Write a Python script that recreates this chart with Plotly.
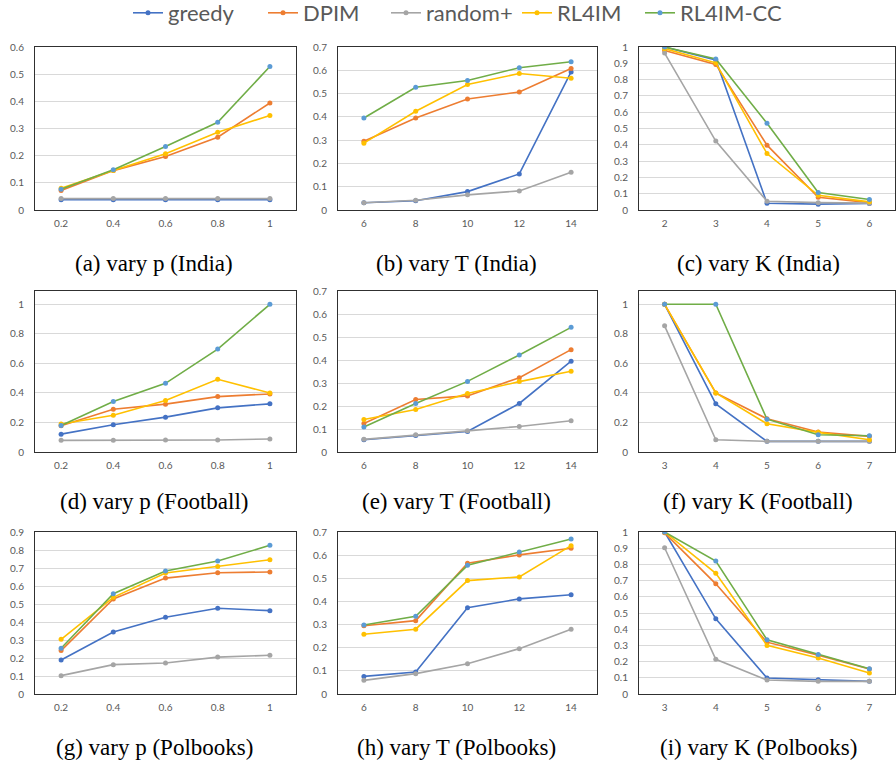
import plotly.graph_objects as go

# ---------------- data ----------------
SERIES = ["greedy", "DPIM", "random+", "RL4IM", "RL4IM-CC"]
LINE_COLORS = ["#4472C4", "#ED7D31", "#A5A5A5", "#FFC000", "#70AD47"]
MARKER_COLORS = ["#4472C4", "#ED7D31", "#A5A5A5", "#FFC000", "#5B9BD5"]

p_ticks = ["0.2", "0.4", "0.6", "0.8", "1"]
T_ticks = ["6", "8", "10", "12", "14"]
K_ticks_india = ["2", "3", "4", "5", "6"]
K_ticks = ["3", "4", "5", "6", "7"]

# (a) vary p (India)
a_greedy = [0.038, 0.038, 0.038, 0.038, 0.038]
a_dpim = [0.072, 0.145, 0.197, 0.268, 0.394]
a_random = [0.042, 0.042, 0.042, 0.042, 0.042]
a_rl4im = [0.080, 0.145, 0.207, 0.286, 0.348]
a_rl4imcc = [0.076, 0.148, 0.234, 0.323, 0.528]

# (b) vary T (India)
b_greedy = [0.031, 0.040, 0.079, 0.155, 0.593]
b_dpim = [0.295, 0.395, 0.477, 0.507, 0.608]
b_random = [0.031, 0.042, 0.065, 0.082, 0.162]
b_rl4im = [0.287, 0.424, 0.539, 0.586, 0.566]
b_rl4imcc = [0.395, 0.527, 0.556, 0.611, 0.637]

# (c) vary K (India)
c_greedy = [1.0, 0.92, 0.041, 0.036, 0.040]
c_dpim = [0.979, 0.893, 0.398, 0.078, 0.045]
c_random = [0.963, 0.423, 0.054, 0.045, 0.042]
c_rl4im = [0.99, 0.903, 0.346, 0.090, 0.050]
c_rl4imcc = [1.0, 0.926, 0.532, 0.107, 0.064]

# (d) vary p (Football)
d_greedy = [0.121, 0.184, 0.236, 0.299, 0.326]
d_dpim = [0.178, 0.290, 0.324, 0.375, 0.393]
d_random = [0.079, 0.080, 0.081, 0.081, 0.088]
d_rl4im = [0.190, 0.249, 0.348, 0.492, 0.400]
d_rl4imcc = [0.180, 0.342, 0.465, 0.697, 1.0]

# (e) vary T (Football)
e_greedy = [0.053, 0.072, 0.089, 0.211, 0.395]
e_dpim = [0.124, 0.228, 0.244, 0.323, 0.445]
e_random = [0.055, 0.075, 0.092, 0.111, 0.136]
e_rl4im = [0.141, 0.185, 0.254, 0.306, 0.351]
e_rl4imcc = [0.109, 0.211, 0.307, 0.422, 0.542]

# (f) vary K (Football)
f_greedy = [1.0, 0.326, 0.072, 0.072, 0.072]
f_dpim = [1.0, 0.400, 0.225, 0.135, 0.106]
f_random = [0.854, 0.083, 0.072, 0.072, 0.072]
f_rl4im = [1.0, 0.400, 0.191, 0.133, 0.083]
f_rl4imcc = [1.0, 1.0, 0.222, 0.117, 0.110]

# (g) vary p (Polbooks)
g_greedy = [0.189, 0.344, 0.426, 0.476, 0.463]
g_dpim = [0.241, 0.528, 0.644, 0.674, 0.678]
g_random = [0.102, 0.163, 0.172, 0.205, 0.215]
g_rl4im = [0.304, 0.537, 0.672, 0.709, 0.746]
g_rl4imcc = [0.254, 0.557, 0.683, 0.739, 0.826]

# (h) vary T (Polbooks)
h_greedy = [0.076, 0.095, 0.373, 0.411, 0.429]
h_dpim = [0.295, 0.317, 0.565, 0.601, 0.630]
h_random = [0.059, 0.088, 0.131, 0.196, 0.280]
h_rl4im = [0.258, 0.280, 0.490, 0.506, 0.641]
h_rl4imcc = [0.298, 0.336, 0.556, 0.614, 0.670]

# (i) vary K (Polbooks)
i_greedy = [1.0, 0.464, 0.099, 0.088, 0.078]
i_dpim = [0.995, 0.680, 0.320, 0.240, 0.154]
i_random = [0.903, 0.214, 0.086, 0.078, 0.078]
i_rl4im = [1.0, 0.745, 0.300, 0.222, 0.129]
i_rl4imcc = [1.0, 0.821, 0.335, 0.244, 0.156]

captions = ["(a) vary p (India)", "(b) vary T (India)", "(c) vary K (India)",
            "(d) vary p (Football)", "(e) vary T (Football)", "(f) vary K (Football)",
            "(g) vary p (Polbooks)", "(h) vary T (Polbooks)", "(i) vary K (Polbooks)"]

panels = [
    (p_ticks, [a_greedy, a_dpim, a_random, a_rl4im, a_rl4imcc], 0.6, 0.1),
    (T_ticks, [b_greedy, b_dpim, b_random, b_rl4im, b_rl4imcc], 0.7, 0.1),
    (K_ticks_india, [c_greedy, c_dpim, c_random, c_rl4im, c_rl4imcc], 1.0, 0.1),
    (p_ticks, [d_greedy, d_dpim, d_random, d_rl4im, d_rl4imcc], 1.09, 0.2),
    (T_ticks, [e_greedy, e_dpim, e_random, e_rl4im, e_rl4imcc], 0.7, 0.1),
    (K_ticks, [f_greedy, f_dpim, f_random, f_rl4im, f_rl4imcc], 1.09, 0.2),
    (p_ticks, [g_greedy, g_dpim, g_random, g_rl4im, g_rl4imcc], 0.9, 0.1),
    (T_ticks, [h_greedy, h_dpim, h_random, h_rl4im, h_rl4imcc], 0.7, 0.1),
    (K_ticks, [i_greedy, i_dpim, i_random, i_rl4im, i_rl4imcc], 1.0, 0.1),
]

# ---------------- layout geometry (window pixels) ----------------
W, H = 896, 762
col_px = [(35, 296), (338, 597), (639, 895)]
row_px = [(47, 210), (291, 452), (532, 694)]
caption_x_px = [154, 456, 758]
caption_y_px = [263, 501, 747]
legend_entry_px = [90, 78, 86, 78, 105]


def fx(px):
    return px / W


def fy(py):
    return 1 - py / H


fig = go.Figure()
layout = {}
annotations = []
TICK_FONT = dict(family="Lato, Open Sans, sans-serif", size=10, color="#595959")

for idx, (ticks, ys, ymax, dtick) in enumerate(panels):
    r, c = divmod(idx, 3)
    n = idx + 1
    xa = "x" if n == 1 else f"x{n}"
    ya = "y" if n == 1 else f"y{n}"
    for s, name in enumerate(SERIES):
        fig.add_trace(go.Scatter(
            x=ticks, y=ys[s], name=name, mode="lines+markers",
            line=dict(color=LINE_COLORS[s], width=1.6),
            marker=dict(color=MARKER_COLORS[s], size=5),
            xaxis=xa, yaxis=ya, showlegend=(idx == 0), legendgroup=name,
            legendwidth=legend_entry_px[s],
        ))
    x0, x1 = col_px[c]
    y0, y1 = row_px[r]
    layout["xaxis" if n == 1 else f"xaxis{n}"] = dict(
        domain=[fx(x0), min(fx(x1), 1.0)], anchor=ya, type="category",
        range=[-0.5, 4.5], showgrid=False, zeroline=False,
        showline=True, mirror=True, linecolor="#303030", linewidth=1,
        ticks="", tickfont=TICK_FONT, ticklabelstandoff=4, fixedrange=True,
    )
    layout["yaxis" if n == 1 else f"yaxis{n}"] = dict(
        domain=[fy(y1), fy(y0)], anchor=xa,
        range=[0, ymax], tick0=0, dtick=dtick,
        showgrid=True, gridcolor="#D9D9D9", gridwidth=1, zeroline=False,
        showline=True, mirror=True, linecolor="#303030", linewidth=1,
        ticks="", tickfont=TICK_FONT, ticklabelstandoff=8, fixedrange=True,
    )
    annotations.append(dict(
        text=captions[idx], x=fx(caption_x_px[c]), y=fy(caption_y_px[r]),
        xref="paper", yref="paper", xanchor="center", yanchor="middle",
        showarrow=False,
        font=dict(family="Liberation Serif, Times New Roman, serif", size=23, color="#000000"),
    ))

fig.update_layout(
    width=W, height=H,
    margin=dict(l=0, r=0, t=0, b=0, autoexpand=False),
    paper_bgcolor="white", plot_bgcolor="white",
    showlegend=True,
    legend=dict(orientation="h", x=fx(128), xanchor="left", y=fy(13), yanchor="middle",
                font=dict(family="Lato, Open Sans, sans-serif", size=22, color="#595959"),
                itemwidth=30, bgcolor="rgba(0,0,0,0)"),
    annotations=annotations,
    **layout,
)

# remove the default 8px page margin so the figure fills the 896x762 window
fig.write_html("out.html", config={"displayModeBar": False},
               post_script="document.body.style.margin='0';")
